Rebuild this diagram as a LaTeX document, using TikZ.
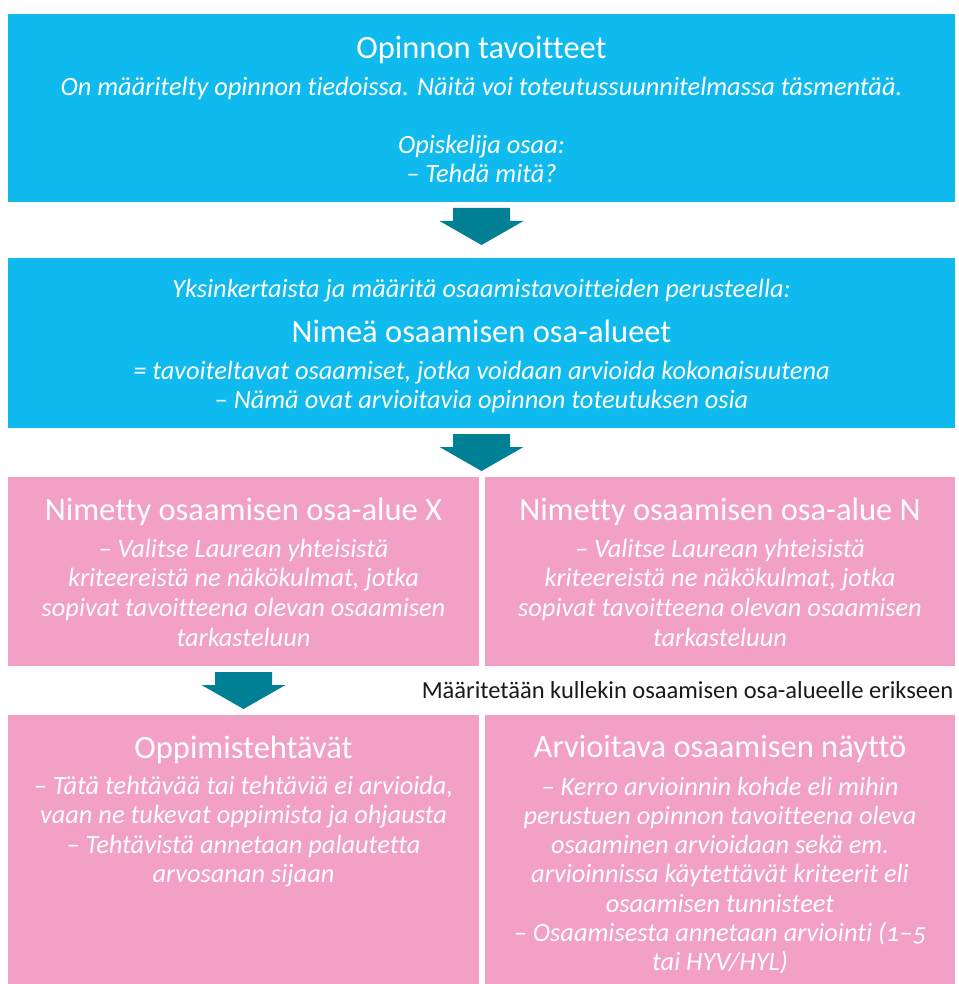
\documentclass[tikz,border=0pt]{standalone}
\usepackage{fontspec}
\setmainfont{Carlito}[Ligatures={NoCommon}, Numbers=OldStyle]
\usetikzlibrary{calc}

\definecolor{boxblue}{HTML}{0EBAEE}
\definecolor{boxpink}{HTML}{F2A0C5}
\definecolor{arrowteal}{HTML}{008094}
\definecolor{labelink}{HTML}{1A1A1A}

% block arrow hanging below the bottom edge of a box
\newcommand\blockarrow[1]{%
  \fill[arrowteal]
    ($(#1)+(-28.5,6)$) -- ($(#1)+(28.5,6)$) -- ($(#1)+(28.5,19)$) --
    ($(#1)+(42,19)$) -- ($(#1)+(0,43)$) -- ($(#1)+(-42,19)$) --
    ($(#1)+(-28.5,19)$) -- cycle;}

\tikzset{
  panel/.style={draw=none, inner sep=0pt, outer sep=0pt, anchor=north west},
  bluepanel/.style={panel, fill=boxblue},
  pinkpanel/.style={panel, fill=boxpink},
  heading/.style={text=white, inner sep=0pt, anchor=base,
    font=\fontsize{32.5}{39}\selectfont},
  note/.style={text=white, inner sep=0pt, anchor=base,
    font=\fontsize{26.4}{29.5}\selectfont\itshape},
  sidelabel/.style={text=labelink, inner sep=0pt, anchor=base,
    font=\fontsize{24.5}{29}\selectfont},
}

\begin{document}
\begin{tikzpicture}[x=1pt, y=-1pt]
\useasboundingbox[fill=white] (0,0) rectangle (958,984);

% ---- panels ----
\node[bluepanel, minimum width=947pt, minimum height=188pt] (goals) at (8,14) {};
\node[bluepanel, minimum width=947pt, minimum height=170pt] (areas) at (8,258) {};
\node[pinkpanel, minimum width=471pt, minimum height=189pt] (areaX) at (8,477) {};
\node[pinkpanel, minimum width=470pt, minimum height=189pt] (areaN) at (485,477) {};
\node[pinkpanel, minimum width=471pt, minimum height=269pt] (tasks) at (8,715) {};
\node[pinkpanel, minimum width=470pt, minimum height=269pt] (demo) at (485,715) {};

% ---- arrows ----
\blockarrow{goals.south}
\blockarrow{areas.south}
\blockarrow{areaX.south}

% ---- goals ----
\node[heading] (goalsT) at ($(goals.north)+(0,44.5)$) {Opinnon tavoitteet};
\node[note] (goals1) at ($(goals.north)+(0,82)$) {On määritelty opinnon tiedoissa. Näitä voi toteutussuunnitelmassa täsmentää.};
\node[note] (goals2) at ($(goals.north)+(0,140)$) {Opiskelija osaa:};
\node[note] (goals3) at ($(goals.north)+(0,169)$) {– Tehdä mitä?};

% ---- competence areas ----
\node[note] (areas0) at ($(areas.north)+(0,39.3)$) {Yksinkertaista ja määritä osaamistavoitteiden perusteella:};
\node[heading] (areasT) at ($(areas.north)+(0,84.7)$) {Nimeä osaamisen osa-alueet};
\node[note] (areas1) at ($(areas.north)+(0,121)$) {= tavoiteltavat osaamiset, jotka voidaan arvioida kokonaisuutena};
\node[note] (areas2) at ($(areas.north)+(0,150.3)$) {– Nämä ovat arvioitavia opinnon toteutuksen osia};

% ---- named area X ----
\node[heading] (areaXT) at ($(areaX.north)+(0,43.7)$) {Nimetty osaamisen osa-alue X};
\node[note] (areaX1) at ($(areaX.north)+(0,80.3)$) {– Valitse Laurean yhteisistä};
\node[note] (areaX2) at ($(areaX.north)+(0,109.7)$) {kriteereistä ne näkökulmat, jotka};
\node[note] (areaX3) at ($(areaX.north)+(0,139.4)$) {sopivat tavoitteena olevan osaamisen};
\node[note] (areaX4) at ($(areaX.north)+(0,169)$) {tarkasteluun};

% ---- named area N ----
\node[heading] (areaNT) at ($(areaN.north)+(0,43.7)$) {Nimetty osaamisen osa-alue N};
\node[note] (areaN1) at ($(areaN.north)+(0,80.3)$) {– Valitse Laurean yhteisistä};
\node[note] (areaN2) at ($(areaN.north)+(0,109.7)$) {kriteereistä ne näkökulmat, jotka};
\node[note] (areaN3) at ($(areaN.north)+(0,139.4)$) {sopivat tavoitteena olevan osaamisen};
\node[note] (areaN4) at ($(areaN.north)+(0,169)$) {tarkasteluun};

% ---- side label ----
\node[sidelabel] (each) at (687.5,698) {Määritetään kullekin osaamisen osa-alueelle erikseen};

% ---- learning tasks ----
\node[heading] (tasksT) at ($(tasks.north)+(0,43)$) {Oppimistehtävät};
\node[note] (tasks1) at ($(tasks.north)+(0,79.3)$) {– Tätä tehtävää tai tehtäviä ei arvioida,};
\node[note] (tasks2) at ($(tasks.north)+(0,108.8)$) {vaan ne tukevat oppimista ja ohjausta};
\node[note] (tasks3) at ($(tasks.north)+(0,138.3)$) {– Tehtävistä annetaan palautetta};
\node[note] (tasks4) at ($(tasks.north)+(0,167.8)$) {arvosanan sijaan};

% ---- assessed demonstration ----
\node[heading] (demoT) at ($(demo.north)+(0,42.7)$) {Arvioitava osaamisen näyttö};
\node[note] (demo1) at ($(demo.north)+(0,80)$) {– Kerro arvioinnin kohde eli mihin};
\node[note] (demo2) at ($(demo.north)+(0,109.3)$) {perustuen opinnon tavoitteena oleva};
\node[note] (demo3) at ($(demo.north)+(0,138.6)$) {osaaminen arvioidaan sekä em.};
\node[note] (demo4) at ($(demo.north)+(0,167.9)$) {arvioinnissa käytettävät kriteerit eli};
\node[note] (demo5) at ($(demo.north)+(0,197.2)$) {osaamisen tunnisteet};
\node[note] (demo6) at ($(demo.north)+(0,226.5)$) {– Osaamisesta annetaan arviointi (1–5};
\node[note] (demo7) at ($(demo.north)+(0,255.8)$) {tai HYV/HYL)};
\end{tikzpicture}
\end{document}
